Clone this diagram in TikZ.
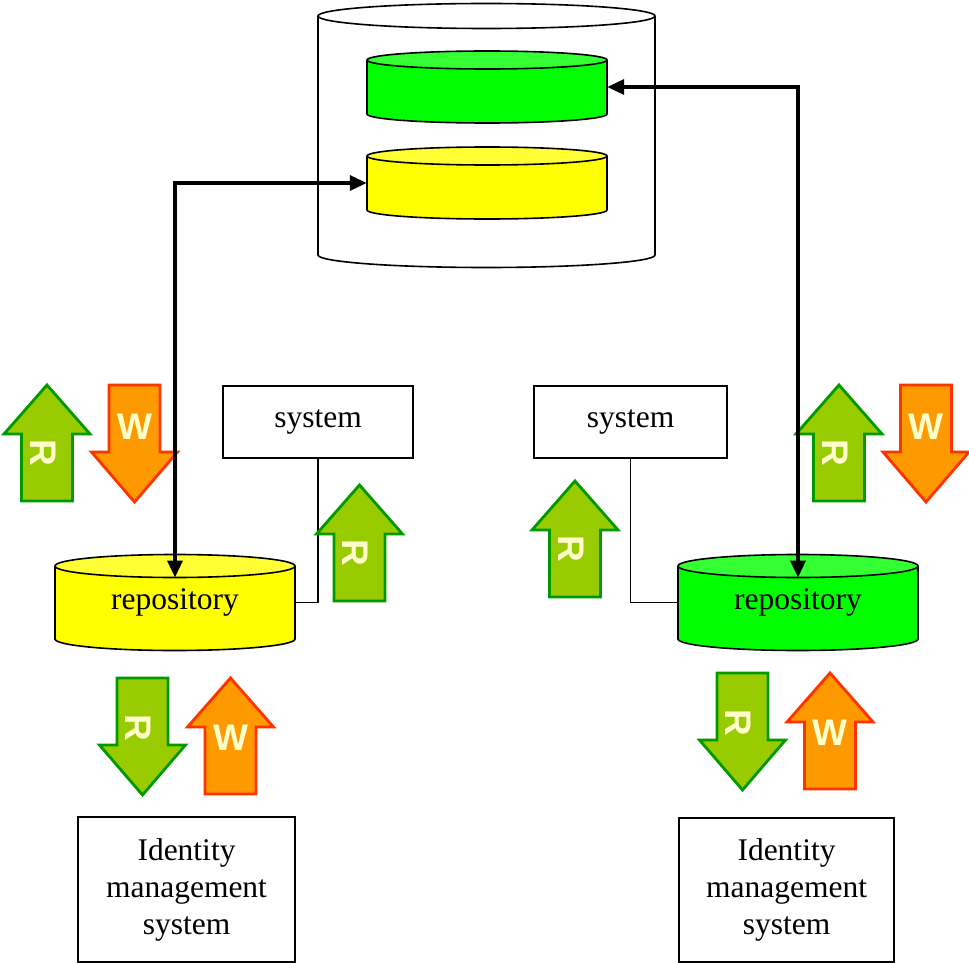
\documentclass[tikz,border=0pt]{standalone}
\usepackage{fontspec}
\setmainfont{Liberation Serif}
\newfontfamily\badgefont{Liberation Sans}
\usetikzlibrary{arrows.meta}

\definecolor{rfill}{HTML}{99CC00}
\definecolor{rline}{HTML}{009900}
\definecolor{wfill}{HTML}{FF9900}
\definecolor{wline}{HTML}{FF3300}
\definecolor{badge}{HTML}{FFFFCC}
\definecolor{ybody}{HTML}{FFFF00}
\definecolor{ytop}{HTML}{FFFF33}
\definecolor{gbody}{HTML}{00FF00}
\definecolor{gtop}{HTML}{33FF33}

% database cylinder: {cx}{top y}{bottom y}{rx}{ry}{body colour}{lid colour}{name}
\newcommand\dbcylinder[8]{%
  \fill[#6] (#1-#4,#2) -- (#1-#4,#3)
     arc[start angle=180,end angle=0,x radius=#4,y radius=#5] -- (#1+#4,#2) -- cycle;
  \draw[outline] (#1-#4,#2) -- (#1-#4,#3)
     arc[start angle=180,end angle=0,x radius=#4,y radius=#5] -- (#1+#4,#2);
  \draw[outline,fill=#7] (#1,#2) ellipse[x radius=#4,y radius=#5];
  \coordinate (#8top) at (#1,#2+#5);
}

\tikzset{
  outline/.style={line width=1.6pt},
  box/.style={draw,line width=1.6pt,fill=white,inner sep=0pt,align=center,
    font=\fontsize{31.5}{37}\selectfont},
  label/.style={inner sep=0pt,align=center,font=\fontsize{31.5}{37}\selectfont},
  link/.style={line width=1.6pt},
  flow/.style={line width=3.4pt,
    {Triangle[length=17pt,width=15pt]}-{Triangle[length=17pt,width=15pt]}},
  rshape/.style={fill=rfill,draw=rline,line width=2.8pt,line join=miter},
  wshape/.style={fill=wfill,draw=wline,line width=2.8pt,line join=miter},
  badgetext/.style={inner sep=0pt,text=badge,
    font=\fontsize{37}{37}\badgefont\bfseries},
  pics/rup/.style={code={
    \draw[rshape] (0,0) -- (43,49) -- (25.5,49) -- (25.5,116) -- (-25.5,116)
      -- (-25.5,49) -- (-43,49) -- cycle;
    \node[badgetext,rotate=-90] (-txt) at (-4,68) {R};
  }},
  pics/rdown/.style={code={
    \draw[rshape] (-25.5,0) -- (25.5,0) -- (25.5,67) -- (43,67) -- (0,117)
      -- (-43,67) -- (-25.5,67) -- cycle;
    \node[badgetext,rotate=-90] (-txt) at (-4,50) {R};
  }},
  pics/wup/.style={code={
    \draw[wshape] (0,0) -- (43,49) -- (25.5,49) -- (25.5,116) -- (-25.5,116)
      -- (-25.5,49) -- (-43,49) -- cycle;
    \node[badgetext] (-txt) at (0,60) {W};
  }},
  pics/wdown/.style={code={
    \draw[wshape] (-25.5,0) -- (25.5,0) -- (25.5,67) -- (43,67) -- (0,117)
      -- (-43,67) -- (-25.5,67) -- cycle;
    \node[badgetext] (-txt) at (0,42) {W};
  }},
}

\begin{document}
\begin{tikzpicture}[x=1pt,y=-1pt]
\useasboundingbox (0,0) rectangle (969,963);

% central store with the two replicated repositories inside
\dbcylinder{486.5}{16}{255}{168.5}{12.5}{white}{white}{store}
\dbcylinder{487}{60}{114}{120}{9}{gbody}{gtop}{green}
\dbcylinder{487}{156}{210}{120}{9}{ybody}{ytop}{yellow}
\node[inner sep=0pt,minimum width=240pt,minimum height=54pt] (gdb) at (487,87) {};
\node[inner sep=0pt,minimum width=240pt,minimum height=54pt] (ydb) at (487,183) {};

% local repositories
\dbcylinder{175}{566}{639}{120}{11.5}{ybody}{ytop}{repoL}
\dbcylinder{798}{566}{639}{120}{11.5}{gbody}{gtop}{repoR}
\node[label,minimum width=240pt,minimum height=73pt] (repoL) at (175,602.5) {repository};
\node[label,minimum width=240pt,minimum height=73pt] (repoR) at (798,602.5) {repository};

% systems
\node[box,minimum width=190pt,minimum height=72pt] (sysL) at (318,422) {system};
\node[box,minimum width=193pt,minimum height=72pt] (sysR) at (630.5,422) {system};

% identity management systems
\node[box,minimum width=217pt,minimum height=145pt] (idmL) at (186.5,889.5)
  {Identity\\management\\system};
\node[box,minimum width=215pt,minimum height=144pt] (idmR) at (786.5,890)
  {Identity\\management\\system};

% system to repository links
\draw[link] (repoL.east) -| (sysL.south);
\draw[link] (sysR.south) |- (repoR.west);

% read / write badges
\pic (r1) at (47,385) {rup};
\pic (w1) at (134.5,385) {wdown};
\pic (r2) at (359.5,485) {rup};
\pic (r3) at (142.5,678) {rdown};
\pic (w2) at (230.5,678) {wup};
\pic (r4) at (839,385) {rup};
\pic (w3) at (926,385) {wdown};
\pic (r5) at (575,481) {rup};
\pic (r6) at (742.5,673) {rdown};
\pic (w4) at (830,673) {wup};

% synchronisation
\draw[flow] (repoLtop) |- (ydb.west);
\draw[flow] (repoRtop) |- (gdb.east);
\end{tikzpicture}
\end{document}
